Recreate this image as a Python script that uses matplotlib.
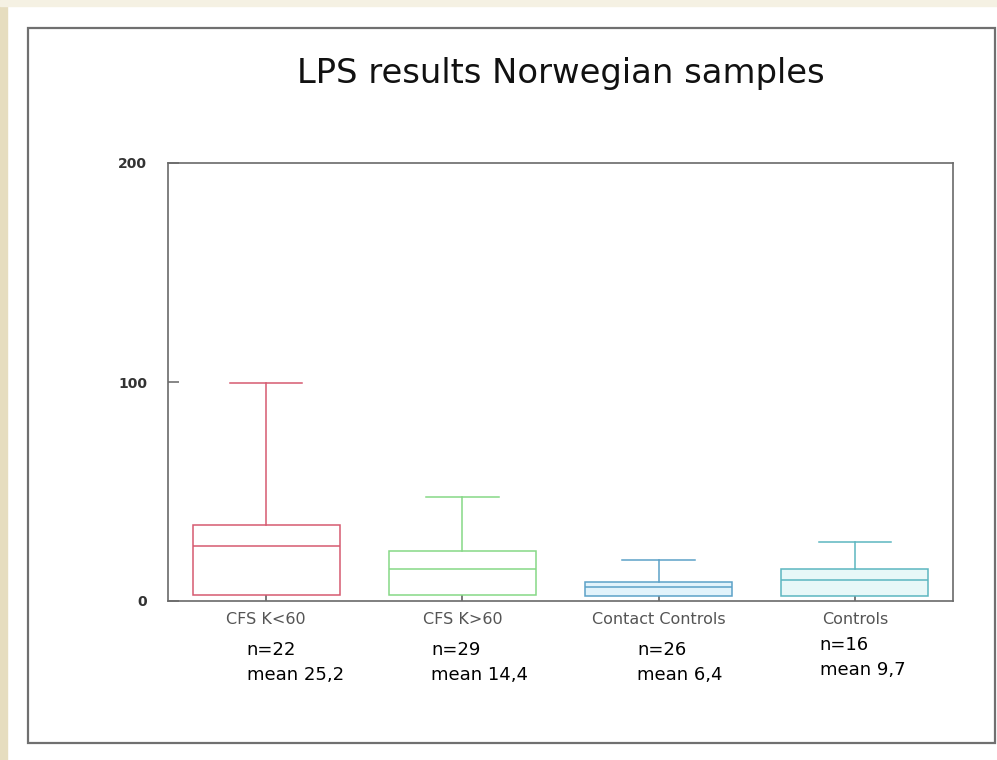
import matplotlib.pyplot as plt
from matplotlib.patches import Rectangle

# values
categories = ["CFS K<60", "CFS K>60", "Contact Controls", "Controls"]
q1 = [2.7, 2.7, 2.3, 2.3]
medians = [25.0, 14.6, 6.4, 9.6]
q3 = [34.7, 22.8, 8.7, 14.6]
whisker_hi = [99.5, 47.5, 18.7, 26.9]
n_counts = [22, 29, 26, 16]
means = ["25,2", "14,4", "6,4", "9,7"]

line_colors = ["#d65a70", "#86d886", "#5ca2c8", "#5cb6c0"]
fill_colors = ["white", "white", "#e2f3fb", "#e8f8f8"]

W, H = 997, 760
fig = plt.figure(figsize=(W / 100, H / 100), dpi=100)
fig.patch.set_facecolor("white")

# page background strips and the outer frame
fig.patches.append(Rectangle((0, 0), 7 / W, 1, transform=fig.transFigure,
                             color="#e6ddbf", zorder=0))
fig.patches.append(Rectangle((0, 1 - 6 / H), 1, 6 / H, transform=fig.transFigure,
                             color="#f5f1e3", zorder=0))
fig.patches.append(Rectangle((28 / W, 1 - 743 / H), (995 - 28) / W, (743 - 28) / H,
                             transform=fig.transFigure, fill=False,
                             edgecolor="#707070", lw=1.6, zorder=1))

ax = fig.add_axes([168 / W, 1 - 601 / H, (953 - 168) / W, (601 - 163) / H])

positions = list(range(1, len(categories) + 1))
stats = []
for c, a, m, b, w in zip(categories, q1, medians, q3, whisker_hi):
    stats.append(dict(label=c, q1=a, med=m, q3=b, whislo=a, whishi=w))

bp = ax.bxp(stats, positions=positions, widths=0.75, capwidths=0.37,
            showfliers=False, patch_artist=True)

for i, (lc, fc) in enumerate(zip(line_colors, fill_colors)):
    bp["boxes"][i].set_facecolor(fc)
    bp["boxes"][i].set_edgecolor(lc)
    bp["boxes"][i].set_linewidth(1.1)
    bp["medians"][i].set_color(lc)
    bp["medians"][i].set_linewidth(1.1)
    for k in (2 * i, 2 * i + 1):
        bp["whiskers"][k].set_color(lc)
        bp["whiskers"][k].set_linewidth(1.1)
        bp["caps"][k].set_color(lc)
        bp["caps"][k].set_linewidth(1.1)
    bp["caps"][2 * i].set_visible(False)

ax.set_xlim(0.5, 4.5)
ax.set_ylim(0, 200)
ax.set_yticks([0, 100, 200])

for s in ax.spines.values():
    s.set_color("#6a6a6a")
    s.set_linewidth(1.2)

ax.tick_params(axis="y", direction="in", length=8, width=1.1, color="#666666",
               pad=15, labelsize=10, labelcolor="#333333")
ax.tick_params(axis="x", direction="in", length=5, width=1.1, color="#555555",
               pad=8, labelsize=11.5, labelcolor="#555555")
for lbl in ax.get_yticklabels():
    lbl.set_fontweight("bold")

fig.text(561 / W, 1 - 74 / H, "LPS results Norwegian samples",
         ha="center", va="center", fontsize=24.3, color="#111111")

# n / mean notes under each group
text_dx = [-0.10, -0.16, -0.11, -0.18]
text_dy = [0.0, 0.0, 0.0, 0.011]
for p, n, mn, dx, dy in zip(positions, n_counts, means, text_dx, text_dy):
    ax.text(p + dx, -0.112 + dy, f"n={n}", transform=ax.get_xaxis_transform(),
            ha="left", va="center", fontsize=13, color="black")
    ax.text(p + dx, -0.169 + dy, f"mean {mn}", transform=ax.get_xaxis_transform(),
            ha="left", va="center", fontsize=13, color="black")

fig.savefig("out.png", dpi=100)
